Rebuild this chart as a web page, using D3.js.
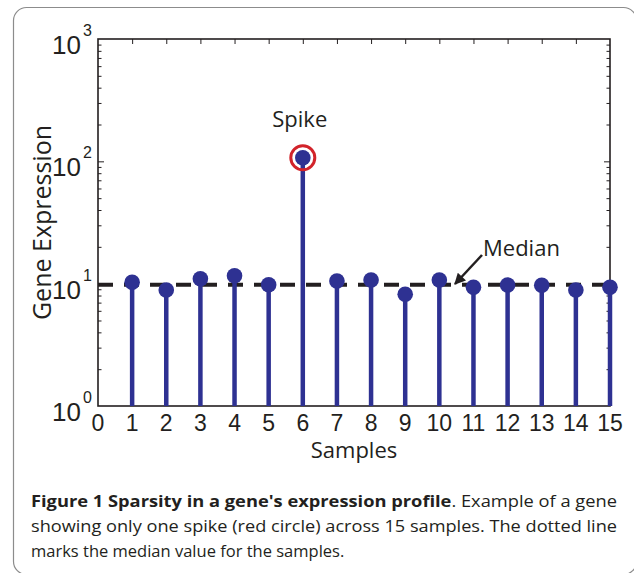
<!DOCTYPE html>
<html>
<head>
<meta charset="utf-8">
<script src="https://cdn.jsdelivr.net/npm/d3@7"></script>
<style>
  body { margin: 0; background: #fff; }
  svg { display: block; }
</style>
</head>
<body>
<svg id="chart" width="634" height="573"></svg>
<script>
// values
const samples    = [1, 2, 3, 4, 5, 6, 7, 8, 9, 10, 11, 12, 13, 14, 15];
const expression = [10.25, 8.87, 10.96, 11.6, 9.8, 107, 10.5, 10.7, 8.2, 10.7, 9.33, 9.74, 9.7, 8.87, 9.33];
const medianValue = 9.8;
const spikeIndex = 5;
const xTicks = [0, 1, 2, 3, 4, 5, 6, 7, 8, 9, 10, 11, 12, 13, 14, 15];
const yTicks = [1, 10, 100, 1000];
const captionLines = [
  { bold: "Figure 1 Sparsity in a gene's expression profile", rest: ". Example of a gene", len: 586 },
  { bold: "", rest: "showing only one spike (red circle) across 15 samples. The dotted line", len: 586 },
  { bold: "", rest: "marks the median value for the samples.", len: null }
];

const svg = d3.select("#chart");
const blue = "#2e3192", red = "#d2232a", ink = "#231f20";
const numFont = "'Liberation Sans', Arial, sans-serif";
const txtFont = "'Open Sans', 'Noto Sans', sans-serif";

// outer frame
svg.append("rect")
  .attr("x", 13.5).attr("y", 7.5)
  .attr("width", 623).attr("height", 567)
  .attr("rx", 13)
  .attr("fill", "none")
  .attr("stroke", "#8c8c8c")
  .attr("stroke-width", 1.2);

const plot = { left: 98, right: 610, top: 39, bottom: 406 };

const x = d3.scaleLinear().domain([0, 15]).range([plot.left, plot.right]);
const y = d3.scaleLog().domain([1, 1000]).range([plot.bottom, plot.top]);

// minor log ticks (2..9 in each decade)
const minor = y.ticks().filter(v => yTicks.indexOf(v) < 0);

// axes with inward ticks
const g = svg.append("g");
g.append("g")
  .attr("transform", `translate(0,${plot.top})`)
  .call(d3.axisTop(x).tickValues(xTicks.slice(1, -1)).tickSize(-5).tickFormat(""));
g.append("g")
  .attr("transform", `translate(0,${plot.bottom})`)
  .call(d3.axisBottom(x).tickValues(xTicks.slice(1, -1)).tickSize(-5).tickFormat(""));
[[plot.left, d3.axisLeft], [plot.right, d3.axisRight]].forEach(([px, ax]) => {
  g.append("g")
    .attr("transform", `translate(${px},0)`)
    .call(ax(y).tickValues(yTicks.slice(1, -1)).tickSize(-6).tickFormat(""));
  g.append("g")
    .attr("transform", `translate(${px},0)`)
    .call(ax(y).tickValues(minor).tickSize(-3.5).tickFormat(""));
});
g.selectAll(".domain").remove();
g.selectAll(".tick line").attr("stroke", ink).attr("stroke-width", 1);

// box
svg.append("rect")
  .attr("x", plot.left).attr("y", plot.top)
  .attr("width", plot.right - plot.left)
  .attr("height", plot.bottom - plot.top)
  .attr("fill", "none")
  .attr("stroke", ink)
  .attr("stroke-width", 1.6);

// median dashed line
svg.append("line")
  .attr("x1", x(0)).attr("x2", x(15))
  .attr("y1", y(medianValue)).attr("y2", y(medianValue))
  .attr("stroke", ink)
  .attr("stroke-width", 4)
  .attr("stroke-dasharray", "15,11");

// stems
svg.append("g").selectAll("line")
  .data(samples)
  .enter().append("line")
  .attr("x1", d => x(d)).attr("x2", d => x(d))
  .attr("y1", y(1))
  .attr("y2", (d, i) => y(expression[i]))
  .attr("stroke", blue)
  .attr("stroke-width", 4.5);

// markers
svg.append("g").selectAll("circle")
  .data(samples)
  .enter().append("circle")
  .attr("cx", d => x(d))
  .attr("cy", (d, i) => y(expression[i]))
  .attr("r", 7.8)
  .attr("fill", blue);

// spike ring
svg.append("circle")
  .attr("cx", x(samples[spikeIndex]))
  .attr("cy", y(expression[spikeIndex]))
  .attr("r", 12)
  .attr("fill", "none")
  .attr("stroke", red)
  .attr("stroke-width", 3);

// x tick labels
svg.append("g").selectAll("text")
  .data(xTicks)
  .enter().append("text")
  .attr("x", d => x(d))
  .attr("y", plot.bottom + 25)
  .attr("text-anchor", "middle")
  .attr("font-family", numFont)
  .attr("font-size", 23)
  .attr("fill", ink)
  .text(d => d);

// y tick labels: 10 with superscript exponent
const yl = svg.append("g").selectAll("text")
  .data(yTicks)
  .enter().append("text")
  .attr("font-family", numFont)
  .attr("fill", ink)
  .attr("text-anchor", "end");
yl.append("tspan")
  .attr("x", plot.left - 17)
  .attr("y", d => y(d) + 15)
  .attr("font-size", 26)
  .text("10");
yl.append("tspan")
  .attr("x", plot.left - 6)
  .attr("y", d => y(d) - 3)
  .attr("font-size", 16)
  .text(d => Math.round(Math.log10(d)));

// axis titles
svg.append("text")
  .attr("x", (plot.left + plot.right) / 2)
  .attr("y", 458)
  .attr("text-anchor", "middle")
  .attr("font-family", txtFont)
  .attr("font-size", 22)
  .attr("fill", ink)
  .text("Samples");

svg.append("text")
  .attr("transform", `translate(51,${(plot.top + plot.bottom) / 2}) rotate(-90)`)
  .attr("text-anchor", "middle")
  .attr("font-family", txtFont)
  .attr("font-size", 25)
  .attr("fill", ink)
  .text("Gene Expression");

// annotations
svg.append("text")
  .attr("x", x(samples[spikeIndex]) - 3)
  .attr("y", 127)
  .attr("text-anchor", "middle")
  .attr("font-family", txtFont)
  .attr("font-size", 22)
  .attr("fill", ink)
  .text("Spike");

svg.append("text")
  .attr("x", 483)
  .attr("y", 256)
  .attr("font-family", txtFont)
  .attr("font-size", 22)
  .attr("fill", ink)
  .text("Median");

svg.append("defs").append("marker")
  .attr("id", "head")
  .attr("viewBox", "0 0 10 10")
  .attr("refX", 9).attr("refY", 5)
  .attr("markerWidth", 5.5).attr("markerHeight", 4.5)
  .attr("orient", "auto")
  .append("path")
  .attr("d", "M0,0L10,5L0,10Z")
  .attr("fill", ink);

svg.append("line")
  .attr("x1", 482).attr("y1", 255)
  .attr("x2", 455).attr("y2", 284)
  .attr("stroke", ink)
  .attr("stroke-width", 2.5)
  .attr("marker-end", "url(#head)");

// caption
const cap = svg.append("g")
  .attr("font-family", txtFont)
  .attr("font-size", 16.5)
  .attr("fill", ink);
captionLines.forEach((ln, i) => {
  const t = cap.append("text")
    .attr("x", 31)
    .attr("y", 507 + i * 25);
  if (ln.len) t.attr("textLength", ln.len).attr("lengthAdjust", "spacingAndGlyphs");
  if (ln.bold) t.append("tspan").attr("font-weight", "bold").text(ln.bold);
  t.append("tspan").text(ln.rest);
});
</script>
</body>
</html>
